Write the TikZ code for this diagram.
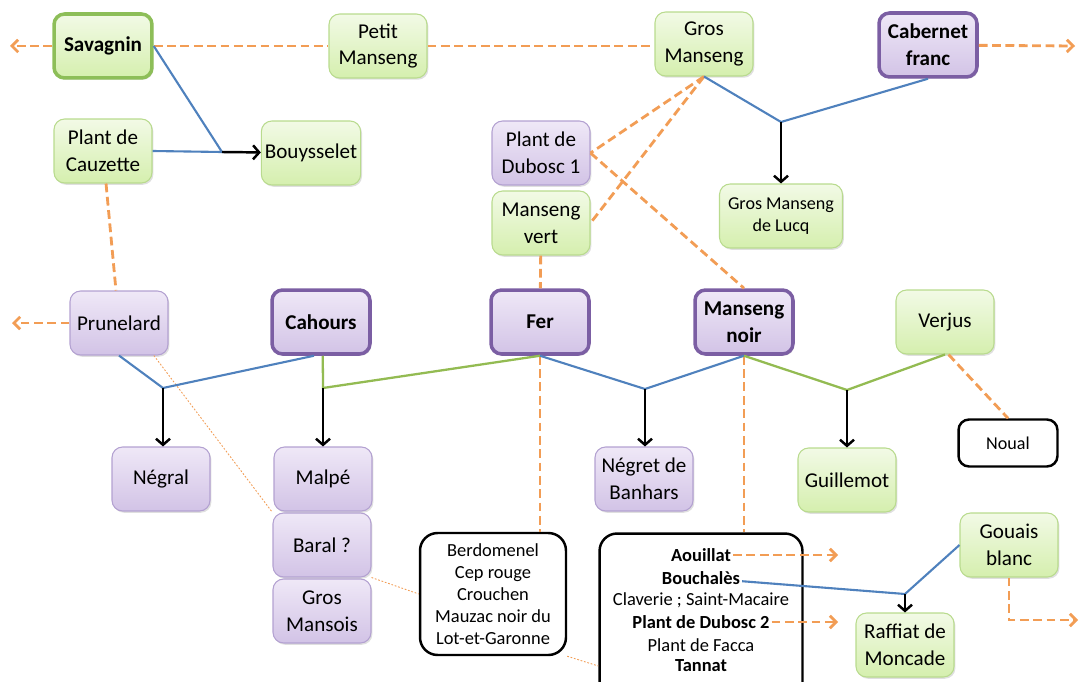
\documentclass[tikz,border=0pt]{standalone}
\usepackage{fontspec}
\setmainfont{Carlito}
\usetikzlibrary{arrows.meta,shadows}

\definecolor{vertHaut}{HTML}{F2FAE6}
\definecolor{vertBas}{HTML}{D5EFAE}
\definecolor{vertBord}{HTML}{B9DB8E}
\definecolor{vertFonce}{HTML}{8DBE58}
\definecolor{mauveHaut}{HTML}{EFE8F7}
\definecolor{mauveBas}{HTML}{D2C3E6}
\definecolor{mauveBord}{HTML}{B3A1D1}
\definecolor{mauveFonce}{HTML}{7B5EA3}
\definecolor{orangeLien}{HTML}{F29D55}
\definecolor{bleuLien}{HTML}{4F81BD}
\definecolor{vertLien}{HTML}{93BB52}

\tikzset{
	cepage/.style={rounded corners=6pt, minimum width=1.96cm, minimum height=1.28cm, inner sep=2pt, align=center,
		font=\fontsize{12}{15.2}\selectfont, line width=0.6pt,
		drop shadow={opacity=0.25, shadow xshift=0.8pt, shadow yshift=-1pt}},
	blanc/.style={cepage, draw=vertBord, top color=vertHaut, bottom color=vertBas},
	noir/.style={cepage, draw=mauveBord, top color=mauveHaut, bottom color=mauveBas},
	parent/.style={line width=2pt, font=\fontsize{12}{15.2}\selectfont\bfseries},
	petit/.style={font=\fontsize{10.3}{12.5}\selectfont},
	synonymes/.style={draw=black, line width=1.4pt, rounded corners=10pt, fill=white, align=center, inner sep=0pt,
		font=\fontsize{10.5}{12.6}\selectfont},
	ligne/.style={inner sep=1pt, font=\fontsize{10.5}{12.6}\selectfont},
	lien/.style={draw=orangeLien, line width=1.6pt, dash pattern=on 5pt off 2.6pt},
	lienfleche/.style={lien, -{Straight Barb[length=3.5pt, width=7pt]}},
	fin/.style={draw=orangeLien, line width=0.5pt, dash pattern=on 1pt off 1pt},
	bleu/.style={draw=bleuLien, line width=1.2pt},
	vertl/.style={draw=vertLien, line width=1.3pt},
	fleche/.style={draw=black, line width=1.4pt, -{Straight Barb[length=3.5pt, width=8pt]}}
}

\begin{document}
\begin{tikzpicture}[x=0.02cm, y=-0.02cm]
	\useasboundingbox (0,0) rectangle (1081,682);
	\clip (0,0) rectangle (1081,682);
	
	%Top row
	\node[blanc, parent, draw=vertFonce] (savagnin) at (103,46) {Savagnin};
	\node[blanc] (petitm) at (378,46) {Petit\\Manseng};
	\node[blanc] (grosm) at (704,44) {Gros\\Manseng};
	\node[noir, parent, draw=mauveFonce] (cabernet) at (928,45) {Cabernet\\franc};
	
	%Second row
	\node[blanc] (cauzette) at (103,151) {Plant de\\Cauzette};
	\node[blanc] (bouys) at (311,153) {Bouysselet};
	\node[noir] (dubosc) at (541,153) {Plant de\\Dubosc 1};
	\node[blanc] (mvert) at (541,223) {Manseng\\vert};
	\node[blanc, petit, minimum width=2.46cm] (lucq) at (781,216) {Gros Manseng\\de Lucq};
	
	%Middle row
	\node[noir] (prun) at (119,323) {Prunelard};
	\node[noir, parent, draw=mauveFonce] (cahours) at (321,322) {Cahours};
	\node[noir, parent, draw=mauveFonce] (fer) at (540,322) {Fer};
	\node[noir, parent, draw=mauveFonce] (mnoir) at (744,322) {Manseng\\noir};
	\node[blanc] (verjus) at (945,322) {Verjus};
	
	%Descendants
	\node[noir] (negral) at (161,479) {Négral};
	\node[noir] (malpe) at (323,479) {Malpé};
	\node[noir] (baral) at (322,545) {Baral ?};
	\node[noir] (mansois) at (322,611) {Gros\\Mansois};
	\node[noir] (negret) at (644,479) {Négret de\\Banhars};
	\node[blanc] (guill) at (847,480) {Guillemot};
	\node[draw=black, line width=1.4pt, rounded corners=6pt, fill=white, petit, minimum width=1.98cm, minimum height=0.94cm] (noual) at (1008,443) {Noual};
	\node[blanc] (gouais) at (1009,545) {Gouais\\blanc};
	\node[blanc] (raffiat) at (905,645) {Raffiat de\\Moncade};
	
	%Synonym boxes
	\node[synonymes, minimum width=2.92cm, minimum height=2.44cm] (syn1) at (493,594) {Berdomenel\\Cep rouge\\Crouchen\\Mauzac noir du\\Lot-et-Garonne};
	\node[synonymes, minimum width=4.06cm, minimum height=3.5cm] (syn2) at (701,621) {};
	\node[ligne] (aouil) at (701,555) {\textbf{Aouillat}};
	\node[ligne] (bouch) at (701,578) {\textbf{Bouchalès}};
	\node[ligne] (clav) at (701,600) {Claverie ; Saint-Macaire};
	\node[ligne] (dub2) at (701,622) {\textbf{Plant de Dubosc 2}};
	\node[ligne] (facca) at (701,645) {Plant de Facca};
	\node[ligne] (tannat) at (701,666) {\textbf{Tannat}};
	
	%Free ends and crossings
	\coordinate (bordG) at (10,46);
	\coordinate (bordD) at (1075,46);
	\coordinate (bordP) at (12,323);
	\coordinate (finA) at (838,555);
	\coordinate (finD) at (838,622);
	\coordinate (finG) at (1078,620);
	\coordinate (j1) at (222,152);
	\coordinate (j2) at (781,122);
	\coordinate (j3) at (163,388);
	\coordinate (j4) at (323,388);
	\coordinate (j5) at (645,389);
	\coordinate (j6) at (847,390);
	\coordinate (j7) at (905,594);
	
	%Orange links
	\draw[lienfleche] (savagnin) -- (bordG);
	\draw[lien] (savagnin) -- (petitm);
	\draw[lien] (petitm.east) -- (petitm.east -| grosm.west);
	\draw[lienfleche] (cabernet) -- (bordD);
	\draw[lien] (grosm.south) -- (dubosc.east);
	\draw[lien] (grosm.south) -- (mvert.east);
	\draw[lien] (dubosc.east) -- (mnoir.north);
	\draw[lien] (mvert) -- (fer);
	\draw[lien] (cauzette) -- (prun);
	\draw[lienfleche] (prun) -- (bordP);
	\draw[lien] ([xshift=2pt]verjus.south) -- (noual.north);
	\draw[lien] (fer.south) -- (fer.south |- syn1.north);
	\draw[lien] (mnoir.south) -- (mnoir.south |- syn2.north);
	\draw[lienfleche] (aouil) -- (finA);
	\draw[lienfleche] (dub2) -- (finD);
	\draw[lienfleche] (gouais.south) |- (finG);
	\draw[fin] (prun.-43) -- (baral.north west);
	\draw[fin] (baral.south east) -- (syn1.west);
	\draw[fin] (syn1.south east) -- (syn2.west |- tannat);
	
	%Crosses
	\draw[bleu] (savagnin.east) -- (j1) -- (cauzette.east);
	\draw[fleche] (j1) -- (bouys);
	\draw[bleu] (grosm.south) -- (j2) -- (cabernet.south);
	\draw[fleche] (j2) -- (lucq);
	\draw[bleu] (prun.south) -- (j3) -- ([xshift=-4pt]cahours.south);
	\draw[fleche] (j3) -- (j3 |- negral.north);
	\draw[vertl] ([xshift=1pt]cahours.south) -- (j4) -- (fer.south);
	\draw[fleche] (j4) -- (malpe);
	\draw[bleu] (fer.south) -- (j5) -- (mnoir.south);
	\draw[fleche] (j5) -- (j5 |- negret.north);
	\draw[vertl] (mnoir.south) -- (j6) -- (verjus.south);
	\draw[fleche] (j6) -- (guill);
	\draw[bleu] (bouch) -- (j7) -- (gouais.west);
	\draw[fleche] (j7) -- (raffiat);
\end{tikzpicture}
\end{document}
